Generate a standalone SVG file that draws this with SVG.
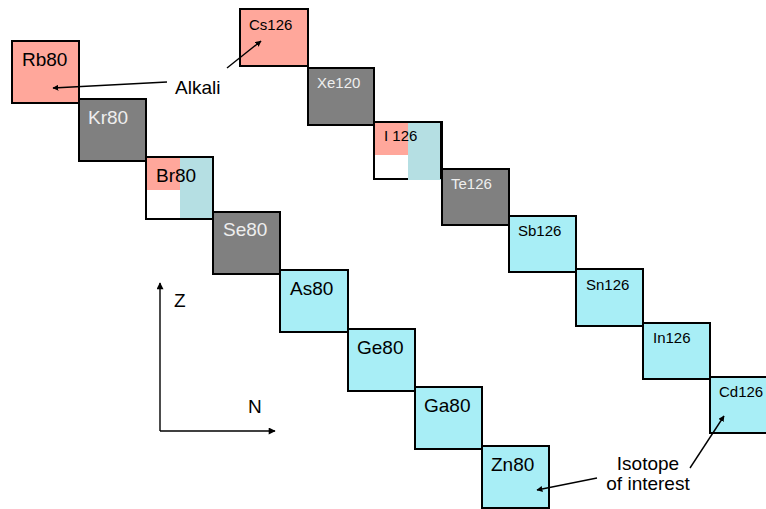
<svg xmlns="http://www.w3.org/2000/svg" width="766" height="509" viewBox="0 0 766 509">
<style>
.box{stroke:#000;stroke-width:2}
.pink{fill:#FFA79B}
.gray{fill:#808080}
.cyan{fill:#A8EEF6}
.lb{font-family:"Liberation Sans",Arial,sans-serif;font-size:19px;fill:#000}
.sb{font-family:"Liberation Sans",Arial,sans-serif;font-size:15px;fill:#000}
.w{fill:#EEEEEE}
.lbl{font-family:"Liberation Sans",Arial,sans-serif;font-size:19px;fill:#000}
.ln{stroke:#000;stroke-width:1.4;fill:none}
</style>
<defs>
<marker id="ah" viewBox="0 0 10 10" refX="9" refY="5" markerWidth="6" markerHeight="6" markerUnits="userSpaceOnUse" orient="auto">
<path d="M0,0 L10,5 L0,10 z" fill="#000"/>
</marker>
<marker id="ah2" viewBox="0 0 10 10" refX="9" refY="5" markerWidth="8" markerHeight="7" markerUnits="userSpaceOnUse" orient="auto">
<path d="M0,0 L10,5 L0,10 z" fill="#000"/>
</marker>
</defs>

<!-- A=80 chain -->
<g id="Rb80"><rect class="box pink" x="12" y="41" width="67" height="62"/><text class="lb" x="22" y="66">Rb80</text></g>
<g id="Kr80"><rect class="box gray" x="79" y="99" width="67" height="62"/><text class="lb w" x="88" y="124">Kr80</text></g>
<g id="Br80">
<rect x="146" y="157" width="67" height="62" fill="#fff"/>
<rect class="pink" x="146" y="157" width="34" height="33"/>
<rect x="180" y="157" width="33" height="62" fill="#B5DFE3"/>
<rect x="146" y="157" width="67" height="62" fill="none" stroke="#000" stroke-width="2"/>
<text class="lb" x="156" y="182">Br80</text></g>
<g id="Se80"><rect class="box gray" x="213" y="212" width="67" height="62"/><text class="lb w" x="223" y="236">Se80</text></g>
<g id="As80"><rect class="box cyan" x="280" y="270" width="68" height="62"/><text class="lb" x="290" y="295">As80</text></g>
<g id="Ge80"><rect class="box cyan" x="348" y="329" width="67" height="62"/><text class="lb" x="357" y="354">Ge80</text></g>
<g id="Ga80"><rect class="box cyan" x="415" y="387" width="67" height="62"/><text class="lb" x="424" y="412">Ga80</text></g>
<g id="Zn80"><rect class="box cyan" x="482" y="446" width="67" height="62"/><text class="lb" x="491" y="471">Zn80</text></g>

<!-- A=126 chain -->
<g id="Cs126"><rect class="box pink" x="240" y="9" width="68" height="57"/><text class="sb" x="249" y="30">Cs126</text></g>
<g id="Xe120"><rect class="box gray" x="308" y="68" width="66" height="57"/><text class="sb w" x="317" y="88">Xe120</text></g>
<g id="I126">
<rect x="374" y="122" width="68" height="57" fill="#fff"/>
<rect class="pink" x="374" y="122" width="34" height="33"/>
<rect x="374" y="122" width="68" height="57" fill="none" stroke="#000" stroke-width="2"/>
<rect x="408" y="122" width="33" height="58" fill="#B5DFE3"/>
<line x1="441" y1="122" x2="441" y2="179" stroke="#000" stroke-width="2"/>
<line x1="374" y1="122" x2="442" y2="122" stroke="#000" stroke-width="2"/>
<text class="sb" x="384" y="141">I 126</text></g>
<g id="Te126"><rect class="box gray" x="442" y="169" width="67" height="56"/><text class="sb w" x="451" y="189">Te126</text></g>
<g id="Sb126"><rect class="box cyan" x="509" y="216" width="67" height="56"/><text class="sb" x="518" y="236">Sb126</text></g>
<g id="Sn126"><rect class="box cyan" x="576" y="269" width="67" height="57"/><text class="sb" x="586" y="290">Sn126</text></g>
<g id="In126"><rect class="box cyan" x="643" y="323" width="67" height="56"/><text class="sb" x="653" y="343">In126</text></g>
<g id="Cd126"><rect class="box cyan" x="710" y="377" width="67" height="56"/><text class="sb" x="719" y="397">Cd126</text></g>

<!-- labels -->
<g id="alkali"><text class="lbl" x="175" y="94">Alkali</text></g>
<g id="isotope"><text class="lbl" x="648" y="470" text-anchor="middle">Isotope</text><text class="lbl" x="648" y="490" text-anchor="middle">of interest</text></g>
<g id="axes">
<line class="ln" x1="160" y1="431" x2="160" y2="283" marker-end="url(#ah2)"/>
<line class="ln" x1="160" y1="431" x2="275" y2="431" marker-end="url(#ah2)"/>
<text class="lbl" x="174" y="307">Z</text>
<text class="lbl" x="248" y="413">N</text>
</g>

<!-- connectors -->
<g id="connectors">
<line class="ln" x1="167" y1="82" x2="53" y2="88" marker-end="url(#ah)"/>
<line class="ln" x1="227" y1="68" x2="261" y2="41" marker-end="url(#ah)"/>
<line class="ln" x1="597" y1="478" x2="537" y2="490" marker-end="url(#ah)"/>
<line class="ln" x1="690" y1="468" x2="724" y2="416" marker-end="url(#ah)"/>
</g>
</svg>
